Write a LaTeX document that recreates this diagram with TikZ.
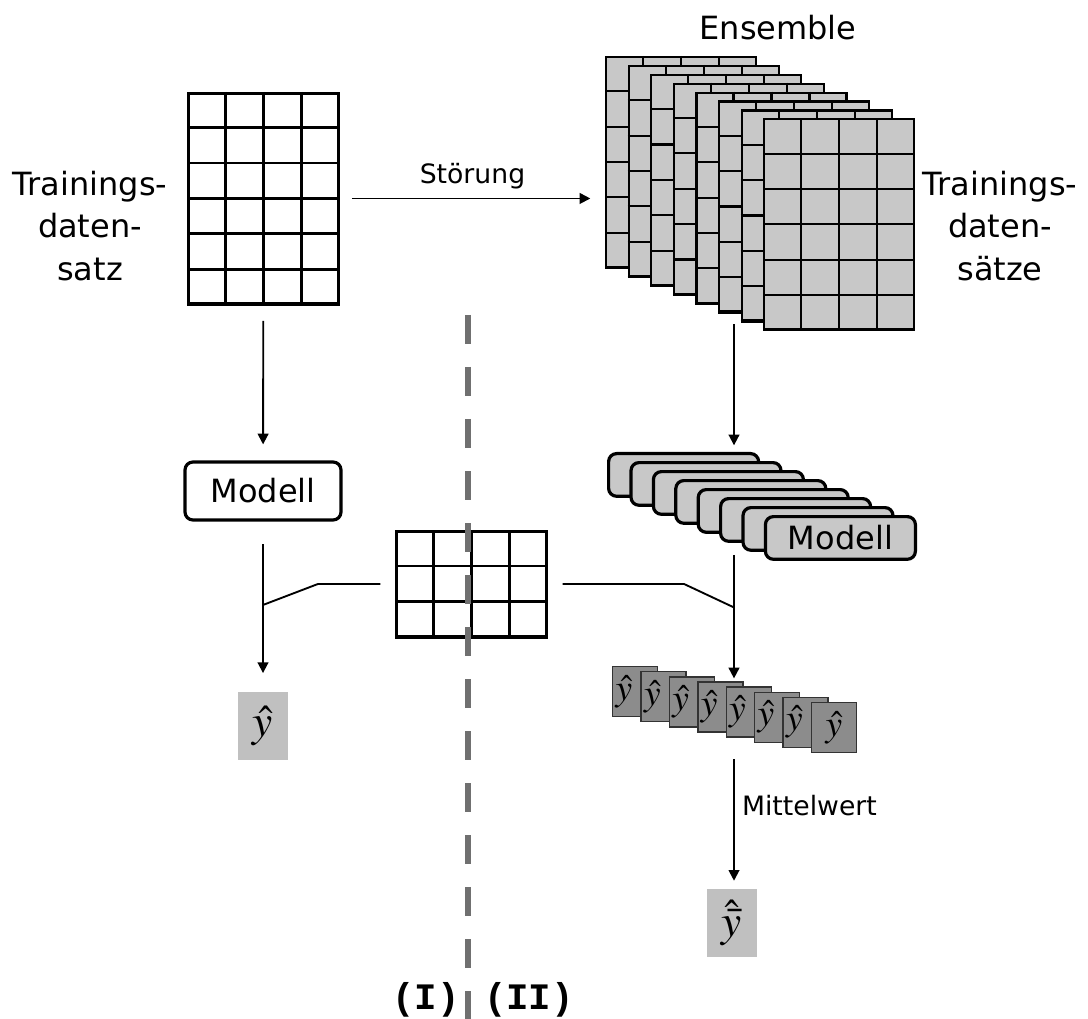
\documentclass[tikz,border=0pt]{standalone}
\usepackage{mathptmx}
\usepackage{fontspec}
\setmainfont{DejaVu Sans}
\setmonofont{Liberation Mono}
\usepackage{xcolor}
\usetikzlibrary{calc,arrows.meta}

\definecolor{hell}{RGB}{200,200,200}
\definecolor{mittel}{RGB}{140,140,140}
\definecolor{yfeld}{RGB}{192,192,192}
\definecolor{strich}{RGB}{112,112,112}

\newcommand{\gitter}[6]{
\node[draw, fill=#5, line width=#6, inner sep=0pt, minimum width=112.5pt,
  minimum height=#4*26.25pt, anchor=north west] (#1) at (#2,#3) {};
\foreach \k in {1,2,3}
  \draw[line width=#6] ($(#1.north west)!\k/4!(#1.north east)$) -- ($(#1.south west)!\k/4!(#1.south east)$);
\foreach \k in {1,...,#4}
  \draw[line width=#6] ($(#1.north west)!\k/#4!(#1.south west)$) -- ($(#1.north east)!\k/#4!(#1.south east)$);
}

\begin{document}
\begin{tikzpicture}[x=0.75pt, y=-0.75pt,
  gross/.style={font=\fontsize{24}{32}\selectfont},
  klein/.style={font=\fontsize{20}{24}\selectfont},
  pfeil/.style={line width=1.4pt, -{Triangle[width=8pt,length=8pt]}},
  linie/.style={line width=1.4pt},
  modbox/.style={draw, line width=2.4pt, rounded corners=6pt, minimum width=112.5pt,
    minimum height=32pt, inner sep=0pt, gross},
  hutbox/.style={draw=black!80, line width=1pt, fill=mittel, minimum width=33.75pt,
    minimum height=37.5pt, inner sep=0pt, anchor=north west},
  huttext/.style={inner sep=0pt, font=\fontsize{28}{28}\selectfont},
  ybox/.style={fill=yfeld, minimum width=37pt, minimum height=51pt, inner sep=0pt,
    font=\fontsize{34}{34}\selectfont},
  trenn/.style={draw=strich, line width=5pt, dash pattern=on 22pt off 17pt}]

\useasboundingbox (0,0) rectangle (1088,1019);

\gitter{links}{187}{92}{6}{white}{2.2pt}
\foreach \i in {0,...,7}{
  \gitter{ens\i}{605+22.6*\i}{56+8.9*\i}{6}{hell}{1.6pt}
}
\gitter{test}{395}{530}{3}{white}{2.2pt}

\node[gross, align=center] (tlinks) at (90,226) {Trainings-\\daten-\\satz};
\node[gross, align=center] (trechts) at (1000,226) {Trainings-\\daten-\\sätze};
\node[gross] (ensemble) at (778,28) {Ensemble};

\node[modbox, fill=white, minimum width=117pt, minimum height=43.5pt] (modell) at (263,491) {Modell};
\foreach \i in {0,...,7}
  \node[modbox, fill=hell, anchor=north west] (mod\i) at (607+22.4*\i,452+9*\i) {\ifnum\i=7 Modell\fi};
\foreach \i in {0,...,6}{
  \node[hutbox] (hut\i) at (612+28.4*\i,666+5.1*\i) {};
  \node[huttext, anchor=west] (ht\i) at ([xshift=2.5pt]hut\i.west) {$\hat{y}$};
}
\node[hutbox] (hut7) at (612+28.4*7,666+5.1*7) {};
\node[huttext] (ht7) at (hut7) {$\hat{y}$};

\node[ybox] (yhut) at (263,726) {$\hat{y}$};
\node[ybox] (ymittel) at (732,923) {$\hat{\bar{y}}$};

\coordinate (achse) at (734,0);
\coordinate (kl) at (318,0);
\coordinate (kr) at (684,0);

\draw[pfeil, shorten <=9pt, shorten >=11pt] (links.east) -- (links.east -| ens0.west)
  node[midway, above=3pt, klein] {Störung};
\draw[pfeil, shorten <=12pt, shorten >=12pt] (links) -- (modell);
\draw[pfeil, shorten <=17pt, shorten >=14pt] (modell) -- (yhut);
\coordinate (jl) at ($(modell.south)!0.49!(yhut.north)$);
\draw[linie, shorten <=11pt] (test.west) -- (test.west -| kl) -- (jl);

\draw[pfeil, shorten <=2pt, shorten >=5pt] (achse |- ens6.south) -- (achse |- mod0.north);
\draw[pfeil, shorten <=9pt, shorten >=6pt] (achse |- mod5.south) -- (achse |- hut4.north);
\coordinate (jr) at ($(achse |- mod5.south)!0.45!(achse |- hut4.north)$);
\draw[linie, shorten <=11pt] (test.east) -- (test.east -| kr) -- (jr);

\draw[pfeil, shorten <=4.5pt, shorten >=6pt] (achse |- hut7.south) -- (achse |- ymittel.north)
  node[pos=0.39, right=2pt, klein] {Mittelwert};

\draw[trenn] (468,315) -- (468,1019);

\node[font=\fontsize{28}{28}\selectfont\ttfamily\bfseries] (eins) at (426,1000) {(I)};
\node[font=\fontsize{28}{28}\selectfont\ttfamily\bfseries] (zwei) at (529,1000) {(II)};

\end{tikzpicture}
\end{document}
